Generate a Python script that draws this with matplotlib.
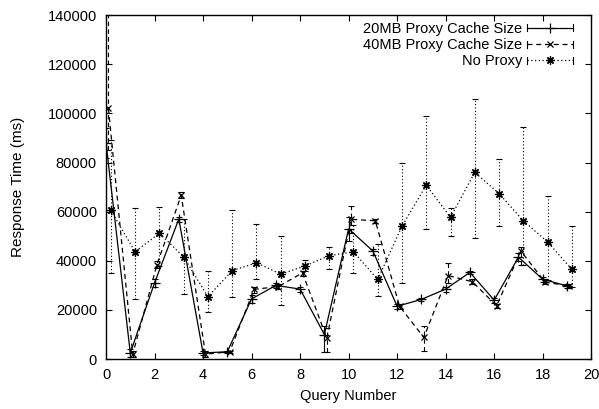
import numpy as np
import matplotlib
matplotlib.use('Agg')
import matplotlib.pyplot as plt
from matplotlib.lines import Line2D
from matplotlib.legend_handler import HandlerLine2D

plt.rcParams['font.family'] = ['Liberation Sans', 'DejaVu Sans']
plt.rcParams['font.size'] = 10.5

# query numbers
queries = np.arange(20)

# 20MB proxy cache: value, lower and upper error bound (ms)
resp_20 = [88000, 2500, 31000, 57000, 2500, 3000, 24500, 30000, 28500, 10000,
           53000, 44000, 21500, 24300, 28500, 35300, 24000, 41500, 32500, 29800]
low_20 = [82000, 1000, 29500, 56000, 1500, 2500, 23000, 29000, 27500, 3000,
          48000, 42500, 20500, 23500, 27500, 34500, 23000, 40000, 31500, 29000]
high_20 = [94000, 4000, 32500, 58000, 3500, 3500, 26000, 31000, 29500, 13500,
           58000, 45000, 22500, 25000, 29500, 36000, 25000, 43000, 33500, 30500]

# 40MB proxy cache
resp_40 = [102000, 2000, 38500, 66700, 2000, 3000, 28400, 29500, 35100, 8500,
           56900, 56300, 21500, 8800, 34000, 31500, 21700, 44000, 31300, 29800]
low_40 = [85000, 1000, 37000, 65500, 1000, 2500, 27000, 28500, 34000, 3000,
          51300, 55500, 20500, 3500, 30800, 30500, 21000, 38500, 30500, 29000]
high_40 = [150000, 3500, 40000, 68000, 3500, 3500, 29500, 30500, 36000, 12500,
           62400, 57000, 22500, 13400, 39200, 32500, 22500, 45500, 32000, 30500]

# no proxy
resp_np = [60500, 43700, 51200, 41600, 25400, 36000, 39200, 34600, 37900, 42100,
           43700, 32400, 54100, 70800, 57700, 76000, 67400, 56300, 47700, 36500]
low_np = [35000, 24300, 38000, 26300, 19300, 25400, 32800, 22000, 36000, 36500,
          34900, 25500, 30800, 52900, 50000, 49100, 54300, 38300, 32200, 29200]
high_np = [89000, 61300, 61800, 57000, 36000, 60600, 55000, 50000, 40300, 45700,
           54500, 47000, 80000, 99000, 61700, 105700, 81400, 94300, 66500, 54300]

labels = ['20MB Proxy Cache Size', '40MB Proxy Cache Size', 'No Proxy']


class CapLineHandler(HandlerLine2D):
    # gnuplot-like key sample: line with small caps at both ends
    def create_artists(self, legend, orig_handle, xdescent, ydescent,
                       width, height, fontsize, trans):
        arts = super().create_artists(legend, orig_handle, xdescent, ydescent,
                                      width, height, fontsize, trans)
        y0 = height / 2 - ydescent
        h = 2.5
        for xx in (-xdescent, -xdescent + width):
            cap = Line2D([xx, xx], [y0 - h, y0 + h], color='black', lw=0.8,
                         transform=trans)
            arts.append(cap)
        return arts


fig = plt.figure(figsize=(5.99, 4.09), dpi=100)
ax = fig.add_axes([0.177, 0.122, 0.810, 0.841])

series = [
    (queries, resp_20, low_20, high_20, '-', '+', 7),
    (queries + 0.1, resp_40, low_40, high_40, (0, (4, 3)), 'x', 5),
    (queries + 0.2, resp_np, low_np, high_np, (0, (1, 2)), (8, 2, 0), 6),
]

handles = []
for xs, ys, lo, hi, ls, mk, ms in series:
    ys = np.array(ys)
    yerr = [ys - np.array(lo), np.array(hi) - ys]
    eb = ax.errorbar(xs, ys, yerr=yerr, fmt='none', ecolor='black',
                     elinewidth=0.8, capsize=2.5, capthick=0.8)
    eb[2][0].set_linestyle(ls)
    ax.plot(xs, ys, color='black', lw=0.9, ls=ls, marker=mk, ms=ms, mew=0.9)
    handles.append(Line2D([], [], color='black', lw=0.9, ls=ls,
                          marker=mk, ms=ms, mew=0.9))

ax.set_xlim(0, 20)
ax.set_ylim(0, 140000)
ax.set_xticks(np.arange(0, 21, 2))
ax.set_yticks(np.arange(0, 140001, 20000))
ax.tick_params(direction='in', top=True, right=True, length=4, width=0.8,
               labelsize=10.5, pad=6.5)
for sp in ax.spines.values():
    sp.set_linewidth(1.0)

ax.set_xlabel('Query Number', fontsize=10.5, labelpad=5)
ax.set_ylabel('Response Time (ms)', fontsize=11, labelpad=16)

leg = ax.legend(handles, labels, loc='upper right',
                bbox_to_anchor=(0.963, 0.98), frameon=False,
                markerfirst=False, handlelength=3.15, handletextpad=0.35,
                labelspacing=0.15, borderpad=0, borderaxespad=0, fontsize=10.5,
                handler_map={Line2D: CapLineHandler()})

fig.savefig('out.png', dpi=100)
